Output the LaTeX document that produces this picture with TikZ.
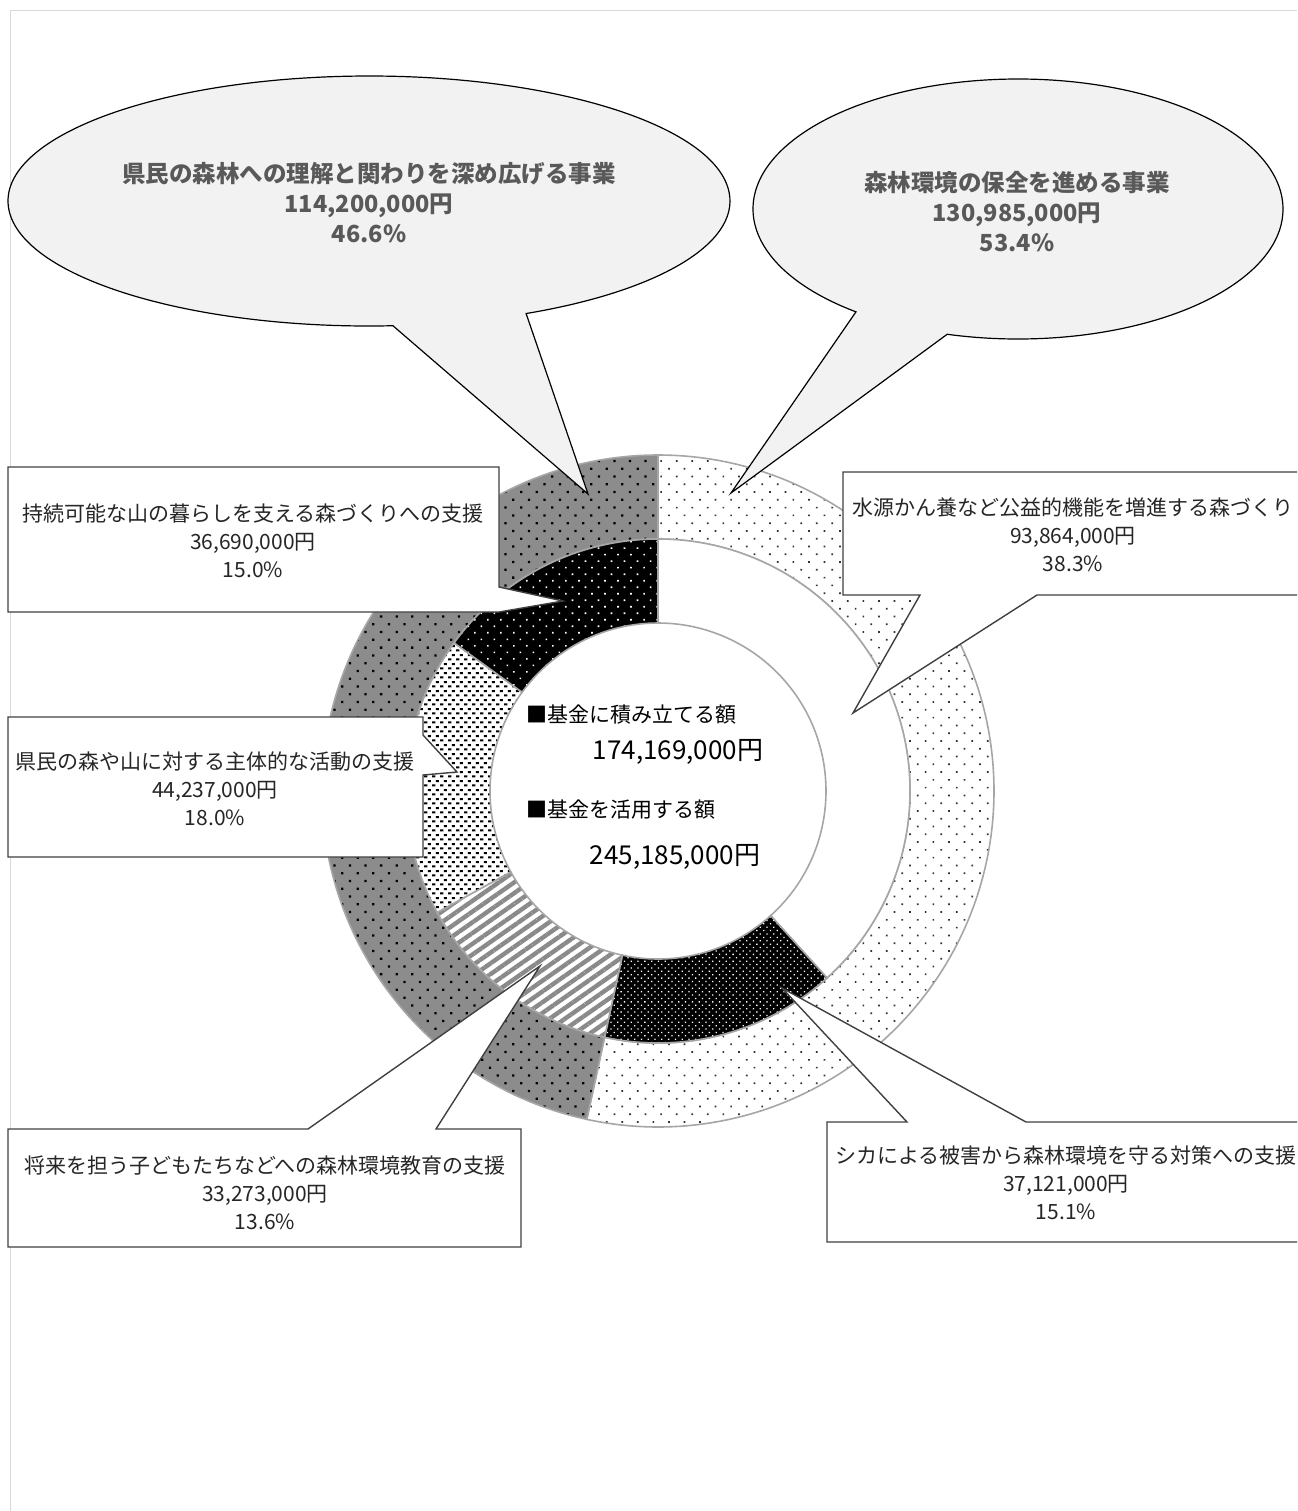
\documentclass[tikz,border=0pt]{standalone}
\usepackage{fontspec}
\newfontfamily\cjk{Noto Sans CJK JP}
\usetikzlibrary{patterns,patterns.meta}
\definecolor{bubblefill}{HTML}{F2F2F2}
\definecolor{bubblegray}{HTML}{595959}
\definecolor{seggray}{HTML}{A6A6A6}
\definecolor{ringgray}{HTML}{8C8C8C}
\definecolor{stripegray}{HTML}{8A8A8A}
\definecolor{framegray}{HTML}{D9D9D9}
\tikzdeclarepattern{
  name=dashbrick,
  type=uncolored,
  bounding box={(0pt,0pt) and (4pt,4.4pt)},
  tile size={(4pt,4.4pt)},
  code={
    \fill (0.1pt,0.3pt) rectangle (1.9pt,1.3pt);
    \fill (2.1pt,2.5pt) rectangle (3.9pt,3.5pt);
  }
}
\newcommand\ringpart[5]{\path[#1] ([shift={(658,791)}]#2-90:#5) arc[start angle=#2-90,end angle=#3-90,radius=#5] -- ([shift={(658,791)}]#3-90:#4) arc[start angle=#3-90,end angle=#2-90,radius=#4] -- cycle;}
\begin{document}
\begin{tikzpicture}[x=0.5pt,y=-0.5pt,
  seg/.style={draw=seggray,line width=0.8pt},
  forestpart/.style={seg,preaction={fill=white},pattern={Dots[distance=5.5pt,angle=45,radius=0.6pt]},pattern color=black!80},
  underpart/.style={seg,preaction={fill=ringgray},pattern={Dots[distance=5.5pt,angle=45,radius=0.8pt]},pattern color=black},
  waterpart/.style={seg,fill=white},
  deerpart/.style={seg,preaction={fill=black},pattern={Dots[distance=2.4pt,angle=45,radius=0.45pt]},pattern color=white},
  edupart/.style={seg,preaction={fill=white},pattern={Lines[angle=35,distance=4.4pt,line width=2.2pt]},pattern color=stripegray},
  actpart/.style={seg,preaction={fill=white},pattern=dashbrick,pattern color=black},
  livepart/.style={seg,preaction={fill=black},pattern={Dots[distance=4.6pt,angle=45,radius=0.55pt]},pattern color=white},
  bubble/.style={draw=black,line width=0.6pt,fill=bubblefill},
  callbox/.style={draw=black!75,line width=0.7pt,fill=white},
  bubbletext/.style={font=\cjk\bfseries\fontsize{11.75}{15}\selectfont,align=center,text=bubblegray},
  boxtext/.style={font=\cjk\fontsize{10.5}{14}\selectfont,align=center,text=black!85},
  midtext/.style={font=\cjk\fontsize{10.5}{12}\selectfont,anchor=west},
  sumtext/.style={font=\cjk\fontsize{13}{15}\selectfont}]
\useasboundingbox (0,0) rectangle (1297,1511);
\clip (0,0) rectangle (1297,1511);
\draw[framegray,line width=0.5pt] (10,10) rectangle (1340,1540);

\ringpart{forestpart}{0}{192.24}{252}{336}
\ringpart{underpart}{192.24}{360}{252}{336}
\ringpart{waterpart}{0}{137.88}{168}{252}
\ringpart{deerpart}{137.88}{192.24}{168}{252}
\ringpart{edupart}{192.24}{241.2}{168}{252}
\ringpart{actpart}{241.2}{306}{168}{252}
\ringpart{livepart}{306}{360}{168}{252}

\node[midtext] (tsumitateLabel) at (519,715) {■基金に積み立てる額};
\node[sumtext] (tsumitateSum) at (678,752) {174,169,000円};
\node[midtext] (katsuyoLabel) at (519,810) {■基金を活用する額};
\node[sumtext] (katsuyoSum) at (675,857) {245,185,000円};

\coordinate (rikaiTip) at (588,494);
\coordinate (hozenTip) at (731,493);
\coordinate (suigenTip) at (853,713);
\coordinate (shikaTip) at (782,988);
\coordinate (shoraiTip) at (540,966);
\coordinate (kenminTip) at (457,772);
\coordinate (jizokuTip) at (563,601);

\draw[bubble] ([shift={(369,201)}]86.2:361 and 125) arc[start angle=86.2,end angle=424.2,x radius=361,y radius=125] -- (rikaiTip) -- cycle;
\draw[bubble] ([shift={(1018,209)}]127.7:265 and 130) arc[start angle=127.7,end angle=465.5,x radius=265,y radius=130] -- (hozenTip) -- cycle;
\draw[callbox] (843,472) -- (1320,472) -- (1320,595) -- (1037,595) -- (suigenTip) -- (920,595) -- (843,595) -- cycle;
\draw[callbox] (827,1122) -- (907,1122) -- (shikaTip) -- (1026,1122) -- (1320,1122) -- (1320,1242) -- (827,1242) -- cycle;
\draw[callbox] (8,1129) -- (308,1129) -- (shoraiTip) -- (436,1129) -- (521,1129) -- (521,1247) -- (8,1247) -- cycle;
\draw[callbox] (8,717) -- (423,717) -- (423,735) -- (kenminTip) -- (423,775) -- (423,857) -- (8,857) -- cycle;
\draw[callbox] (8,467) -- (499,467) -- (499,587) -- (jizokuTip) -- (499,612) -- (8,612) -- cycle;

\node[bubbletext] (rikaiText) at (369,203) {県民の森林への理解と関わりを深め広げる事業\\114,200,000円\\46.6\%};
\node[bubbletext] (hozenText) at (1017,212) {森林環境の保全を進める事業\\130,985,000円\\53.4\%};
\node[boxtext] (suigenText) at (1073,535) {水源かん養など公益的機能を増進する森づくり\\93,864,000円\\38.3\%};
\node[boxtext] (shikaText) at (1066,1183) {シカによる被害から森林環境を守る対策への支援\\37,121,000円\\15.1\%};
\node[boxtext] (shoraiText) at (265,1193) {将来を担う子どもたちなどへの森林環境教育の支援\\33,273,000円\\13.6\%};
\node[boxtext] (kenminText) at (215,789) {県民の森や山に対する主体的な活動の支援\\44,237,000円\\18.0\%};
\node[boxtext] (jizokuText) at (253,541) {持続可能な山の暮らしを支える森づくりへの支援\\36,690,000円\\15.0\%};
\end{tikzpicture}
\end{document}
